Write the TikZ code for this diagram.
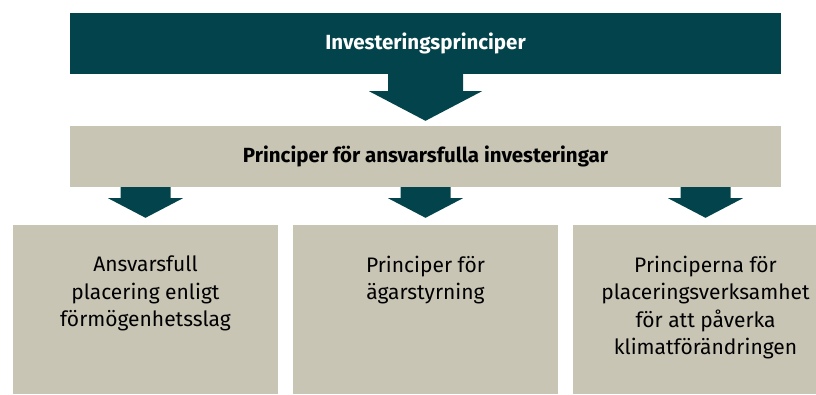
\documentclass[tikz,border=0pt]{standalone}
\usepackage{fontspec}
\setmainfont{Fira Sans}
\usetikzlibrary{calc}
\definecolor{darkteal}{HTML}{03434B}
\definecolor{sand}{HTML}{C8C5B5}
\tikzset{
  bar/.style={minimum width=711pt, minimum height=61pt, inner sep=0pt, font=\fontsize{20.5}{24}\selectfont\bfseries},
  topbar/.style={bar, fill=darkteal, text=white},
  midbar/.style={bar, fill=sand, text=black},
  leafbox/.style={fill=sand, minimum width=265pt, minimum height=169pt, inner sep=0pt},
  leaftext/.style={anchor=north, align=center, inner sep=0pt, font=\fontsize{21}{27.5}\selectfont},
  blockarrow/.style={fill=darkteal}
}
\begin{document}
\begin{tikzpicture}[x=1pt,y=-1pt]
\useasboundingbox (0,0) rectangle (816,394);
\clip (0,0) rectangle (816,394);
\node[topbar] (inv) at (425.5,43.5) {Investeringsprinciper};
\node[midbar] (pfa) at (425.5,156.5) {Principer för ansvarsfulla investeringar};
\node[leafbox] (b1) at (145.5,309.5) {};
\node[leafbox] (b2) at (425.5,309.5) {};
\node[leafbox] (b3) at (705.5,309.5) {};
\node[leaftext] (t1) at ($(b1.north)+(0,31)$) {Ansvarsfull\\placering enligt\\förmögenhetsslag};
\node[leaftext] (t2) at ($(b2.north)+(0,31)$) {Principer för\\ägarstyrning};
\node[leaftext] (t3) at ($(b3.north)+(0,31)$) {Principerna för\\placeringsverksamhet\\för att påverka\\klimatförändringen};
% big arrow
\fill[blockarrow] ($(inv.south)+(-37.5,0)$) -- ($(inv.south)+(-37.5,17)$) -- ($(inv.south)+(-56.5,17)$)
  -- ($(pfa.north)+(0,-5)$) -- ($(inv.south)+(56.5,17)$) -- ($(inv.south)+(37.5,17)$) -- ($(inv.south)+(37.5,0)$) -- cycle;
% small arrows
\foreach \b in {b1,b2,b3}{
  \coordinate (s) at (\b.north |- pfa.south);
  \fill[blockarrow] ($(s)+(-25,0)$) -- ($(s)+(-25,11)$) -- ($(s)+(-37.5,11)$)
    -- ($(\b.north)+(0,-7)$) -- ($(s)+(37.5,11)$) -- ($(s)+(25,11)$) -- ($(s)+(25,0)$) -- cycle;
}
\end{tikzpicture}
\end{document}
